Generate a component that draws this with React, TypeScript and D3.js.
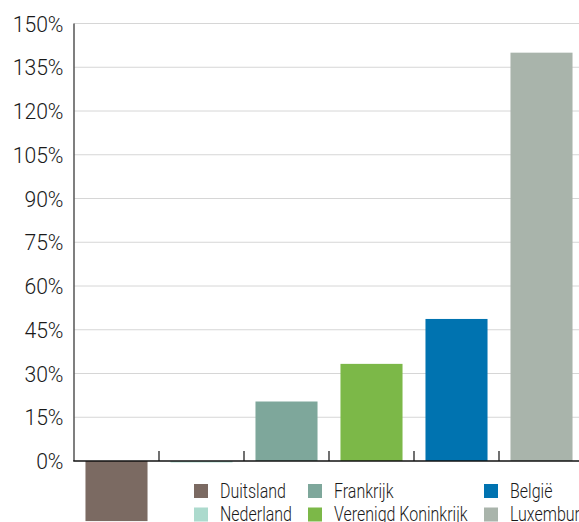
import React from 'react';
import * as d3 from 'd3';

const categories = ['Duitsland', 'Nederland', 'Frankrijk', 'Verenigd Koninkrijk', 'België', 'Luxemburg'];
const values = [-20.6, -0.5, 20.4, 33.3, 48.7, 140];
const colors = ['#7b6a62', '#acdacd', '#7ea79b', '#7cb848', '#0073b0', '#a9b4ab'];
const yTicks = [0, 15, 30, 45, 60, 75, 90, 105, 120, 135, 150];

const W = 579;
const H = 522;
const FONT = 'Roboto, "DejaVu Sans", sans-serif';

export default function App() {
  const y = d3.scaleLinear().domain([0, 150]).range([461, 23.5]);
  const x = d3.scaleBand<string>()
    .domain(categories)
    .range([74, 584])
    .paddingInner(0.27)
    .paddingOuter(0.135);
  const step = x.step();

  const legendCols = [194, 308, 484];
  const legendRows = [484, 507.5];

  return (
    <div style={{ position: 'absolute', left: 0, top: 0 }}>
      <svg width={W} height={H} style={{ display: 'block', background: '#fff' }}>
        {/* gridlines */}
        {yTicks.filter(t => t > 0).map(t => (
          <line key={t} x1={74} x2={W} y1={y(t)} y2={y(t)} stroke="#d6d6d6" strokeWidth={1} />
        ))}

        {/* bars */}
        {categories.map((c, i) => {
          const v = values[i];
          const y0 = y(0);
          const y1 = y(v);
          return (
            <rect key={c} x={x(c)} width={x.bandwidth()}
              y={Math.min(y0, y1)} height={Math.abs(y1 - y0)} fill={colors[i]} />
          );
        })}

        {/* y axis */}
        <line x1={74} x2={74} y1={y(150)} y2={y(0)} stroke="#555" strokeWidth={1.5} />
        {yTicks.map(t => (
          <text key={t} transform={`translate(63.5,${y(t) + 8}) scale(0.94,1)`} textAnchor="end"
            fontFamily={FONT} fontWeight={300} fontSize={22.5} fill="#1a1a1a">{t}%</text>
        ))}

        {/* x baseline with category ticks */}
        <line x1={73.25} x2={W} y1={y(0)} y2={y(0)} stroke="#111" strokeWidth={1.5} />
        {categories.slice(1).map(c => {
          const bx = (x(c) as number) - (step - x.bandwidth()) / 2;
          return <line key={c} x1={bx} x2={bx} y1={y(0)} y2={y(0) - 10} stroke="#111" strokeWidth={1.2} />;
        })}

        {/* legend */}
        {categories.map((c, k) => {
          const col = Math.floor(k / 2);
          const row = k % 2;
          const lx = legendCols[col];
          const ly = legendRows[row];
          return (
            <g key={c}>
              <rect x={lx} y={ly} width={14} height={14} fill={colors[k]} />
              <text transform={`translate(${lx + 26},${ly + 13.5}) scale(0.82,1)`} fontFamily={FONT}
                fontWeight={300} fontSize={19.5} fill="#1a1a1a">{c}</text>
            </g>
          );
        })}
      </svg>
    </div>
  );
}
